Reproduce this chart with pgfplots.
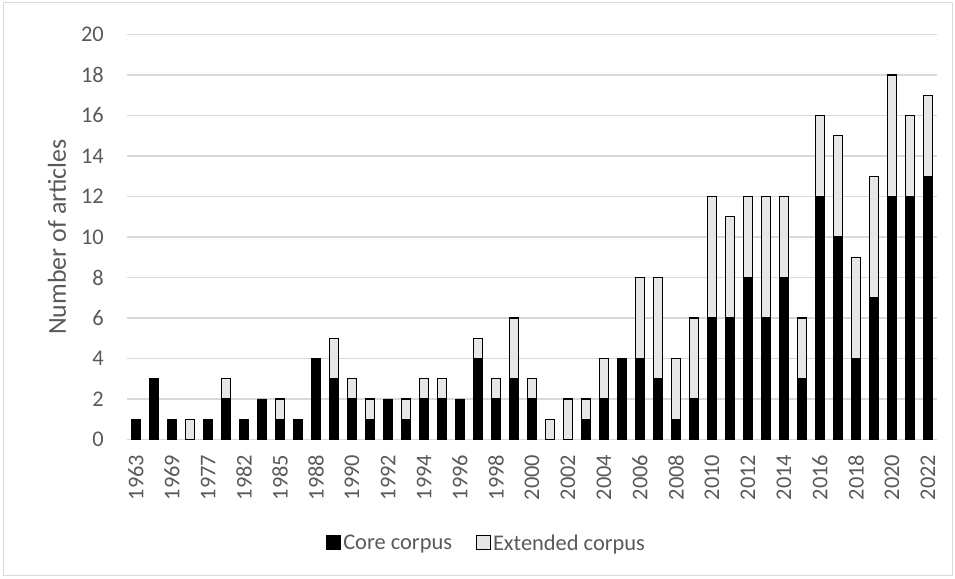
\documentclass[border=0pt]{standalone}
\usepackage{pgfplots}
\pgfplotsset{compat=1.18}
\usepackage{pgfplotstable}
\usepackage{fontspec}
\setmainfont{Carlito}
\definecolor{txt}{HTML}{595959}
\definecolor{gridc}{HTML}{D9D9D9}
\definecolor{extc}{HTML}{E7E6E6}
\pgfplotstableread{
x core ext
0 1 0
1 3 0
2 1 0
3 0 1
4 1 0
5 2 1
6 1 0
7 2 0
8 1 1
9 1 0
10 4 0
11 3 2
12 2 1
13 1 1
14 2 0
15 1 1
16 2 1
17 2 1
18 2 0
19 4 1
20 2 1
21 3 3
22 2 1
23 0 1
24 0 2
25 1 1
26 2 2
27 4 0
28 4 4
29 3 5
30 1 3
31 2 4
32 6 6
33 6 5
34 8 4
35 6 6
36 8 4
37 3 3
38 12 4
39 10 5
40 4 5
41 7 6
42 12 6
43 12 4
44 13 4
}\data
\newcommand{\cf}{\fontsize{22.5}{27}\selectfont}
\begin{document}
\begin{tikzpicture}
\useasboundingbox (0bp,0bp) rectangle (955bp,579bp);
\draw[gridc, line width=1bp] (3bp,3bp) rectangle (952bp,576bp);
\begin{axis}[
  at={(127bp,139.5bp)}, anchor=south west,
  scale only axis, width=810bp, height=405bp,
  ybar stacked, bar width=9bp,
  xmin=-0.5, xmax=44.5, ymin=0, ymax=20,
  ytick={0,2,...,20},
  xtick={0,2,...,44},
  xticklabels={1963,1969,1977,1982,1985,1988,1990,1992,1994,1996,1998,2000,2002,2004,2006,2008,2010,2012,2014,2016,2018,2020,2022},
  axis x line*=bottom, axis y line*=left,
  x axis line style={gridc, line width=1.2bp, -},
  y axis line style={draw=none},
  tick style={draw=none}, major tick length=0pt,
  ymajorgrids, grid style={gridc, line width=1.2bp},
  /pgf/number format/assume math mode=true,
  x tick label style={yshift=-15bp, rotate=90, anchor=east, inner sep=0pt, font=\cf, text=txt},
  y tick label style={anchor=east, inner sep=0pt, xshift=-23bp, font=\cf, text=txt},
  ylabel={Number of articles},
  ylabel style={at={(axis description cs:-0.0864,0.5)}, anchor=center, font=\fontsize{26}{30}\selectfont, text=txt},
  legend style={at={(axis description cs:0.444,-0.256)}, anchor=center, draw=none, fill=none,
    legend columns=2, font=\cf, text=txt,
    /tikz/every even column/.append style={column sep=22bp}},
  legend image code/.code={\draw[#1, draw=black, line width=1bp] (0bp,-6bp) rectangle (14bp,8bp);},
]
\addplot[fill=black, draw=black, line width=0.8bp] table[x=x,y=core]{\data};
\addplot[fill=extc, draw=black, line width=1.2bp] table[x=x,y=ext]{\data};
\legend{Core corpus, Extended corpus}
\end{axis}
\end{tikzpicture}
\end{document}
